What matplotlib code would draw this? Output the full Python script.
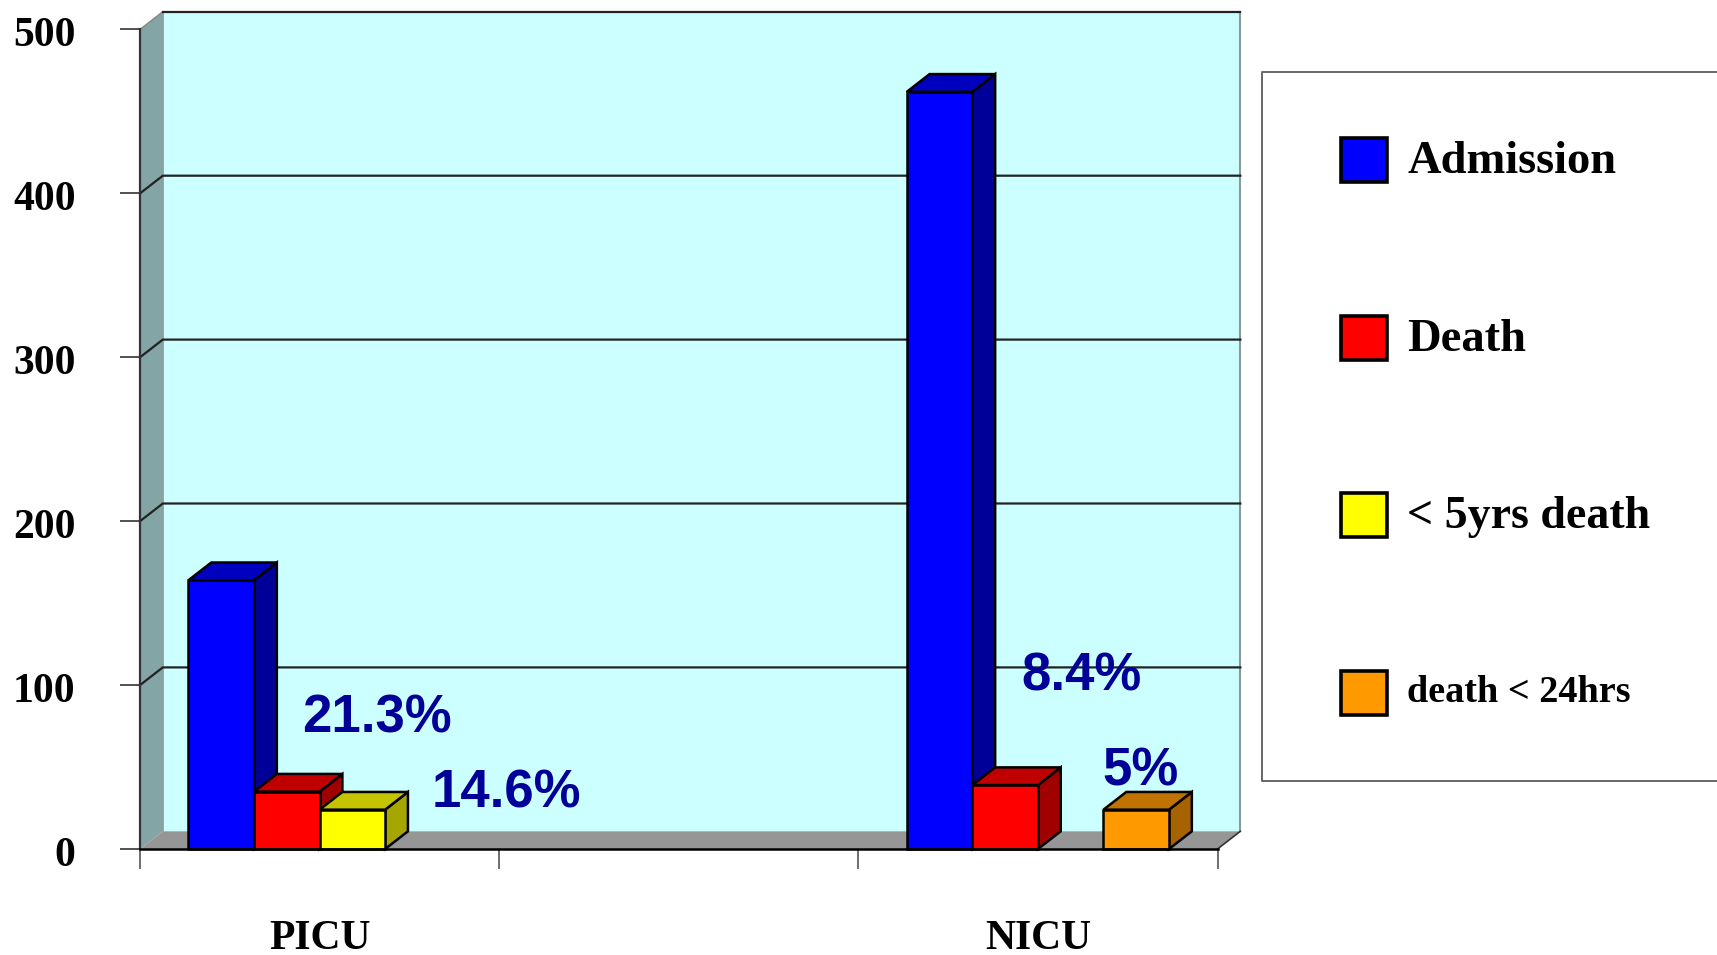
import matplotlib
matplotlib.use("Agg")
import matplotlib.pyplot as plt
from matplotlib.patches import Rectangle
from matplotlib.transforms import ScaledTranslation

# values, the middle category is empty
categories = ["PICU", "", "NICU"]
admission = [164, 0, 462]
death = [35, 0, 39]
under5_death = [24, 0, 0]
death_24h = [0, 0, 24]

y_ticks = [0, 100, 200, 300, 400, 500]
legend_labels = ["Admission", "Death", "< 5yrs death", "death < 24hrs"]
pct_labels = ["21.3%", "14.6%", "8.4%", "5%"]

series = [admission, death, under5_death, death_24h]
# front, side, top
colors = [("#0000FF", "#000099", "#0000BF"),
          ("#FF0000", "#A00000", "#C00000"),
          ("#FFFF00", "#A6A600", "#C4C400"),
          ("#FF9900", "#A66300", "#C07300")]

W, H = 1717, 955
SERIF = "Liberation Serif"
SANS = "Liberation Sans"
depth_x = 0.0635
depth_y = 10.8
bar_w = 0.1825

fig = plt.figure(figsize=(W / 100, H / 100), dpi=100)
ax = fig.add_axes([140 / W, 1 - 849 / H, (1217.5 - 140) / W, (849 - 29.5) / H])
ax.set_xlim(0, 3)
ax.set_ylim(0, 500)
ax.patch.set_visible(False)

# walls and floor
ax.fill([depth_x, 3 + depth_x, 3 + depth_x, depth_x],
        [depth_y, depth_y, 500 + depth_y, 500 + depth_y],
        facecolor="#CCFFFF", edgecolor="none", zorder=1, clip_on=False)
ax.fill([0, depth_x, depth_x, 0], [0, depth_y, 500 + depth_y, 500],
        facecolor="#83A5A5", edgecolor="none", zorder=1, clip_on=False)
ax.fill([0, 3, 3 + depth_x, depth_x], [0, 0, depth_y, depth_y],
        facecolor="#969696", edgecolor="none", zorder=1, clip_on=False)

# wall edges
ax.plot([depth_x, depth_x], [depth_y, 500 + depth_y], color="#8A9A9A", lw=1.2, zorder=2, clip_on=False)
ax.plot([3 + depth_x, 3 + depth_x], [depth_y, 500 + depth_y], color="#8A9A9A", lw=1.5, zorder=2, clip_on=False)
ax.plot([0, depth_x], [500, 500 + depth_y], color="#8A8A8A", lw=1.2, zorder=2, clip_on=False)
ax.plot([depth_x, 3 + depth_x], [500 + depth_y, 500 + depth_y], color="#222222", lw=1.6, zorder=2, clip_on=False)
ax.plot([3, 3 + depth_x], [0, depth_y], color="#333333", lw=1.2, zorder=2, clip_on=False)

# grid lines run across the left wall and then the back wall
for v in y_ticks[1:-1]:
    ax.plot([0, depth_x, 3 + depth_x], [v, v + depth_y, v + depth_y],
            color="#222222", lw=1.6, zorder=2, clip_on=False)

# bars, left to right so each one covers the side of the last
z = 3
for c, cat in enumerate(categories):
    for s, vals in enumerate(series):
        v = vals[c]
        if v == 0:
            continue
        x0 = c + 0.5 + (s - 2) * bar_w
        x1 = x0 + bar_w
        front, side, top = colors[s]
        ax.fill([x1, x1 + depth_x, x1 + depth_x, x1], [0, depth_y, v + depth_y, v],
                facecolor=side, edgecolor="black", lw=1.8, zorder=z, clip_on=False)
        ax.fill([x0, x1, x1 + depth_x, x0 + depth_x], [v, v, v + depth_y, v + depth_y],
                facecolor=top, edgecolor="black", lw=1.8, zorder=z, clip_on=False)
        ax.bar(x0, v, width=bar_w, align="edge", color=front, edgecolor="black",
               linewidth=1.8, zorder=z + 0.5, clip_on=False)
        z += 1

# percentages
pct_font = dict(family=SANS, weight="bold", fontsize=38, color="#000099", zorder=50)
ax.text(0.451, 71.3, pct_labels[0], **pct_font)
ax.text(0.811, 25.6, pct_labels[1], **pct_font)
ax.text(2.455, 97, pct_labels[2], **pct_font)
ax.text(2.68, 38.5, pct_labels[3], **pct_font)

# axes
for name in ["top", "right"]:
    ax.spines[name].set_visible(False)
ax.spines["left"].set_color("#333333")
ax.spines["left"].set_linewidth(1.6)
ax.spines["bottom"].set_color("black")
ax.spines["bottom"].set_linewidth(1.8)
ax.spines["left"].set_zorder(60)
ax.spines["bottom"].set_zorder(60)

ax.set_yticks(y_ticks)
ax.set_yticklabels([str(v) for v in y_ticks], family=SERIF, weight="bold", fontsize=30)
ax.tick_params(axis="y", length=14.4, width=1.2, color="#333333", pad=32)
# labels sit a little under their ticks in the original
for label in ax.get_yticklabels():
    label.set_transform(label.get_transform() + ScaledTranslation(0, -2 / 100, fig.dpi_scale_trans))
ax.set_xticks([0, 1, 2, 3])
ax.set_xticklabels([])
ax.tick_params(axis="x", which="major", length=14.4, width=1.2, color="#555555")
ax.set_xticks([0.5, 1.5, 2.5], minor=True)
ax.set_xticklabels(categories, minor=True, family=SERIF, weight="bold", fontsize=30)
ax.tick_params(axis="x", which="minor", length=0, pad=51)

# legend is laid out in pixels of the picture
lg = fig.add_axes([0, 0, 1, 1])
lg.set_xlim(0, W)
lg.set_ylim(H, 0)
lg.axis("off")
lg.plot([W + 5, 1262, 1262, W + 5], [72.5, 72.5, 781, 781], color="#666666", lw=1.4)
key_y = [138, 316, 493, 671]
legend_sizes = [33.5, 33.5, 33, 27.5]
text_y = [162, 340, 517, 692]
for i, label in enumerate(legend_labels):
    lg.add_patch(Rectangle((1341, key_y[i]), 46, 44, facecolor=colors[i][0],
                           edgecolor="black", lw=2.6))
    lg.text(1407, text_y[i], label, family=SERIF, weight="bold",
            fontsize=legend_sizes[i], va="center", color="black")

fig.savefig("out.png", dpi=100)
